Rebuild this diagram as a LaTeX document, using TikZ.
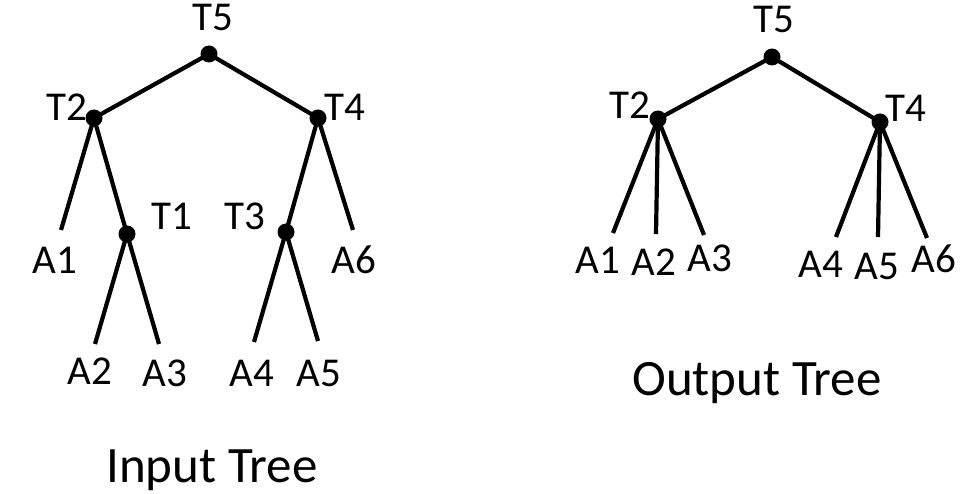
\documentclass[tikz,border=0pt]{standalone}
\usepackage{fontspec}
\setmainfont{Carlito}
\begin{document}
\begin{tikzpicture}[x=1pt,y=-1pt,
  dot/.style={circle,fill=black,inner sep=0pt,minimum size=17pt},
  lbl/.style={inner sep=0pt,font=\fontsize{41}{45}\selectfont},
  ttl/.style={inner sep=0pt,anchor=base,font=\fontsize{51}{56}\selectfont},
  edge/.style={line width=4.2pt}]
\useasboundingbox (0,0) rectangle (961,494);
% ---- Input tree ----
\node[dot] (iT5) at (209,54) {};
\node[dot] (iT2) at (94,118) {};
\node[dot] (iT4) at (318,118) {};
\node[dot] (iT1) at (127,234) {};
\node[dot] (iT3) at (286,232) {};
\coordinate (iA1) at (61,230);
\coordinate (iA6) at (353,230);
\coordinate (iA2) at (95,344);
\coordinate (iA3) at (159,344);
\coordinate (iA4) at (254,342);
\coordinate (iA5) at (318,341);
\draw[edge] (iT5.center) -- (iT2.center);
\draw[edge] (iT5.center) -- (iT4.center);
\draw[edge] (iT2.center) -- (iA1);
\draw[edge] (iT2.center) -- (iT1.center);
\draw[edge] (iT4.center) -- (iT3.center);
\draw[edge] (iT4.center) -- (iA6);
\draw[edge] (iT1.center) -- (iA2);
\draw[edge] (iT1.center) -- (iA3);
\draw[edge] (iT3.center) -- (iA4);
\draw[edge] (iT3.center) -- (iA5);
\node[lbl] (liT5) at (213,17) {T5};
\node[lbl] (liT2) at (67,107) {T2};
\node[lbl] (liT4) at (345,107) {T4};
\node[lbl] (liT1) at (172,216) {T1};
\node[lbl] (liT3) at (245,216) {T3};
\node[lbl] (liA1) at (55,260) {A1};
\node[lbl] (liA6) at (354,260) {A6};
\node[lbl] (liA2) at (90,371) {A2};
\node[lbl] (liA3) at (165,373) {A3};
\node[lbl] (liA4) at (252,373) {A4};
\node[lbl] (liA5) at (319,373) {A5};
\node[ttl] (inTitle) at (212,482) {Input Tree};
% ---- Output tree ----
\node[dot] (oT5) at (772,57) {};
\node[dot] (oT2) at (658,119) {};
\node[dot] (oT4) at (880,122) {};
\coordinate (oA1) at (613,233);
\coordinate (oA2) at (656,234);
\coordinate (oA3) at (704,235);
\coordinate (oA4) at (836,237);
\coordinate (oA5) at (878,237);
\coordinate (oA6) at (927,238);
\draw[edge] (oT5.center) -- (oT2.center);
\draw[edge] (oT5.center) -- (oT4.center);
\draw[edge] (oT2.center) -- (oA1);
\draw[edge] (oT2.center) -- (oA2);
\draw[edge] (oT2.center) -- (oA3);
\draw[edge] (oT4.center) -- (oA4);
\draw[edge] (oT4.center) -- (oA5);
\draw[edge] (oT4.center) -- (oA6);
\node[lbl] (loT5) at (774,19) {T5};
\node[lbl] (loT2) at (630,105) {T2};
\node[lbl] (loT4) at (906,108) {T4};
\node[lbl] (loA1) at (598,260) {A1};
\node[lbl] (loA2) at (654,262) {A2};
\node[lbl] (loA3) at (710,258) {A3};
\node[lbl] (loA4) at (821,264) {A4};
\node[lbl] (loA5) at (877,266) {A5};
\node[lbl] (loA6) at (934,259) {A6};
\node[ttl] (outTitle) at (757,395) {Output Tree};
\end{tikzpicture}
\end{document}
